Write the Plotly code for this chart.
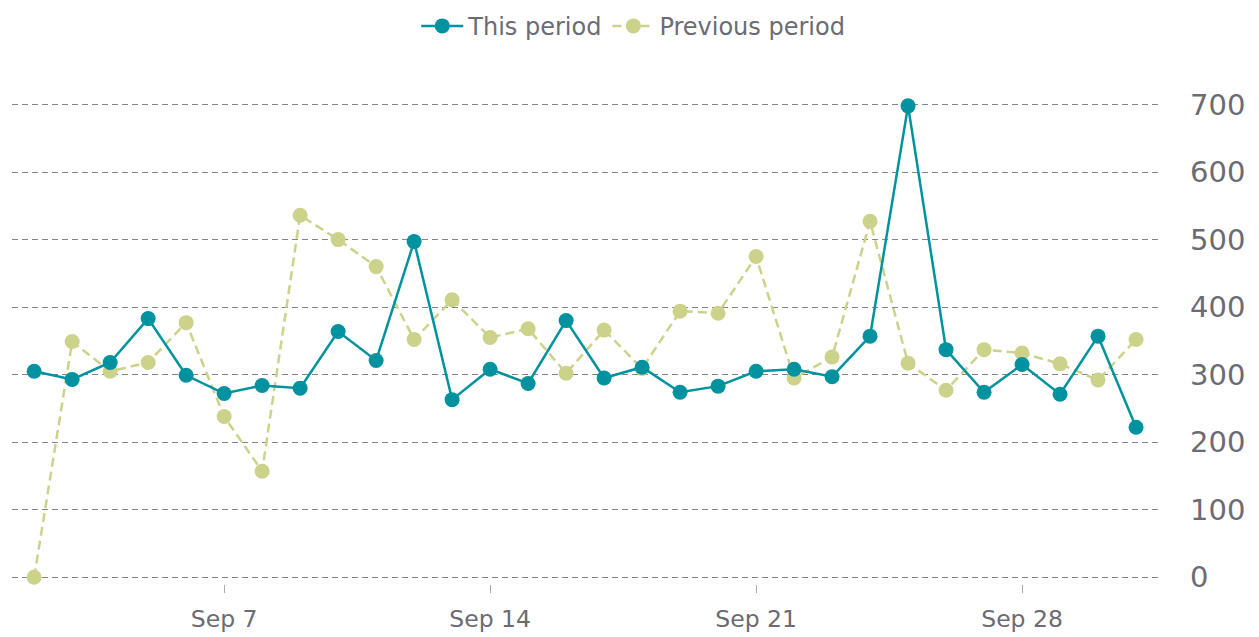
import plotly.graph_objects as go
import pandas as pd

dates = pd.date_range("2024-09-02", "2024-10-01", freq="D")

this_period = [305, 293, 318, 383, 299, 272, 284, 280, 364, 321,
               497, 263, 308, 287, 380, 295, 311, 274, 283, 305,
               308, 297, 357, 698, 337, 274, 315, 271, 357, 222]

previous_period = [0, 349, 305, 318, 377, 238, 157, 536, 500, 460,
                   352, 411, 355, 368, 302, 366, 309, 394, 391, 475,
                   295, 326, 527, 317, 277, 337, 332, 316, 292, 352]

x_ticks = ["2024-09-07", "2024-09-14", "2024-09-21", "2024-09-28"]
x_tick_labels = ["Sep 7", "Sep 14", "Sep 21", "Sep 28"]
y_ticks = [0, 100, 200, 300, 400, 500, 600, 700]

TEAL = "#00929f"
GREEN = "#cdd28a"
TEXT = "#6b6b73"

fig = go.Figure()
fig.add_trace(go.Scatter(
    x=dates, y=previous_period, name="Previous period", mode="lines+markers",
    line=dict(color=GREEN, width=2.5, dash="9px,5px"),
    marker=dict(color=GREEN, size=15),
    cliponaxis=False,
))
fig.add_trace(go.Scatter(
    x=dates, y=this_period, name="This period", mode="lines+markers",
    line=dict(color=TEAL, width=2.5),
    marker=dict(color=TEAL, size=15),
    cliponaxis=False,
))

fig.update_layout(
    width=1259, height=637,
    margin=dict(l=12, r=100, t=64, b=53, autoexpand=False),
    paper_bgcolor="white", plot_bgcolor="white",
    font=dict(family="DejaVu Sans", color=TEXT),
    showlegend=True,
    legend=dict(
        orientation="h", x=0.503, xanchor="center", xref="container",
        y=0.994, yanchor="top", yref="container",
        font=dict(size=24, color=TEXT),
        traceorder="reversed",
        itemwidth=42,
    ),
    xaxis=dict(
        range=[dates[0] - pd.Timedelta(hours=14), dates[-1] + pd.Timedelta(hours=14.5)],
        tickvals=x_ticks, ticktext=x_tick_labels,
        ticks="outside", ticklen=8, tickcolor="#aaaaaa", tickwidth=1,
        showgrid=False, zeroline=False, showline=False,
        tickfont=dict(size=23.5, color=TEXT),
        ticklabelstandoff=6, automargin=False,
    ),
    yaxis=dict(
        side="right", range=[-10, 760],
        tickvals=y_ticks,
        showgrid=True, gridcolor="#858585", gridwidth=1.4, griddash="6px,4px",
        zeroline=False, showline=False, ticks="",
        tickfont=dict(size=29, color=TEXT),
        ticklabelstandoff=30, automargin=False,
    ),
)

fig.write_html("out.html", config={"displayModeBar": False},
               post_script="document.body.style.margin='0';")
